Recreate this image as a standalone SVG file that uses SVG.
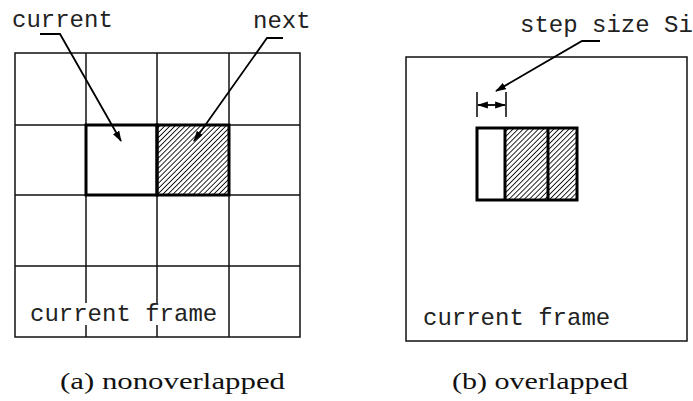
<svg xmlns="http://www.w3.org/2000/svg" width="693" height="401" viewBox="0 0 693 401">
<style>
.mono{font-family:"Liberation Mono","DejaVu Sans Mono",monospace;font-size:24px;fill:#222}
.serif{font-family:"Liberation Serif","DejaVu Serif",serif;font-size:23px;fill:#111}
.thin{fill:none;stroke:#111;stroke-width:1.5}
.thick{stroke:#000;stroke-width:3}
.lead{fill:none;stroke:#000;stroke-width:1.8}
</style>
<defs>
<pattern id="hatch" width="3.6" height="4" patternUnits="userSpaceOnUse" patternTransform="rotate(45)">
<line x1="0" y1="0" x2="0" y2="4" stroke="#000" stroke-width="1.7"/>
</pattern>
<marker id="arr" viewBox="0 0 12 8" refX="11" refY="4" markerWidth="6" markerHeight="4" orient="auto-start-reverse" markerUnits="strokeWidth">
<path d="M0,0 L12,4 L0,8 z" fill="#000"/>
</marker>
</defs>
<rect width="693" height="401" fill="#fff"/>
<g id="panel-a">
<g id="grid-a">
<rect x="15" y="53" width="285" height="284" class="thin"/>
<line x1="86" y1="53" x2="86" y2="337" class="thin"/>
<line x1="157" y1="53" x2="157" y2="337" class="thin"/>
<line x1="229" y1="53" x2="229" y2="337" class="thin"/>
<line x1="15" y1="125" x2="300" y2="125" class="thin"/>
<line x1="15" y1="195" x2="300" y2="195" class="thin"/>
<line x1="15" y1="266" x2="300" y2="266" class="thin"/>
</g>
<g id="current-block">
<rect x="86" y="125" width="71" height="70" fill="none" class="thick"/>
</g>
<g id="next-block">
<rect x="157" y="125" width="72" height="70" style="fill:url(#hatch)" class="thick"/>
</g>
<text class="mono" x="12" y="27">current</text>
<text class="mono" x="253" y="28">next</text>
<rect x="30" y="303" width="197" height="22" fill="#fff"/>
<text class="mono" x="30" y="321">current frame</text>
<text class="serif" x="60" y="389" textLength="225" lengthAdjust="spacingAndGlyphs">(a) nonoverlapped</text>
</g>
<g id="panel-b">
<rect x="406" y="57" width="281" height="284" class="thin"/>
<g id="window-blocks">
<rect x="505" y="128" width="72" height="72" fill="url(#hatch)"/>
<rect x="477" y="128" width="100" height="72" fill="none" class="thick"/>
<line x1="505" y1="128" x2="505" y2="200" class="thick"/>
<line x1="548" y1="128" x2="548" y2="200" class="thick"/>
</g>
<g id="step-dim">
<line x1="477" y1="92" x2="477" y2="117" stroke="#000" stroke-width="1.5"/>
<line x1="506" y1="92" x2="506" y2="117" stroke="#000" stroke-width="1.5"/>
<line x1="478" y1="105" x2="505" y2="105" stroke="#000" stroke-width="1.8" marker-start="url(#arr)" marker-end="url(#arr)"/>
</g>
<text class="mono" x="520" y="32">step size Si</text>
<text class="mono" x="423" y="325">current frame</text>
<text class="serif" x="452" y="389" textLength="176" lengthAdjust="spacingAndGlyphs">(b) overlapped</text>
</g>
<g id="connectors">
<path d="M40,34 H60 L121,141" class="lead" marker-end="url(#arr)"/>
<path d="M283,38 H267 L194,141" class="lead" marker-end="url(#arr)"/>
<path d="M600,41 H582 L496,91" class="lead" marker-end="url(#arr)"/>
</g>
</svg>
